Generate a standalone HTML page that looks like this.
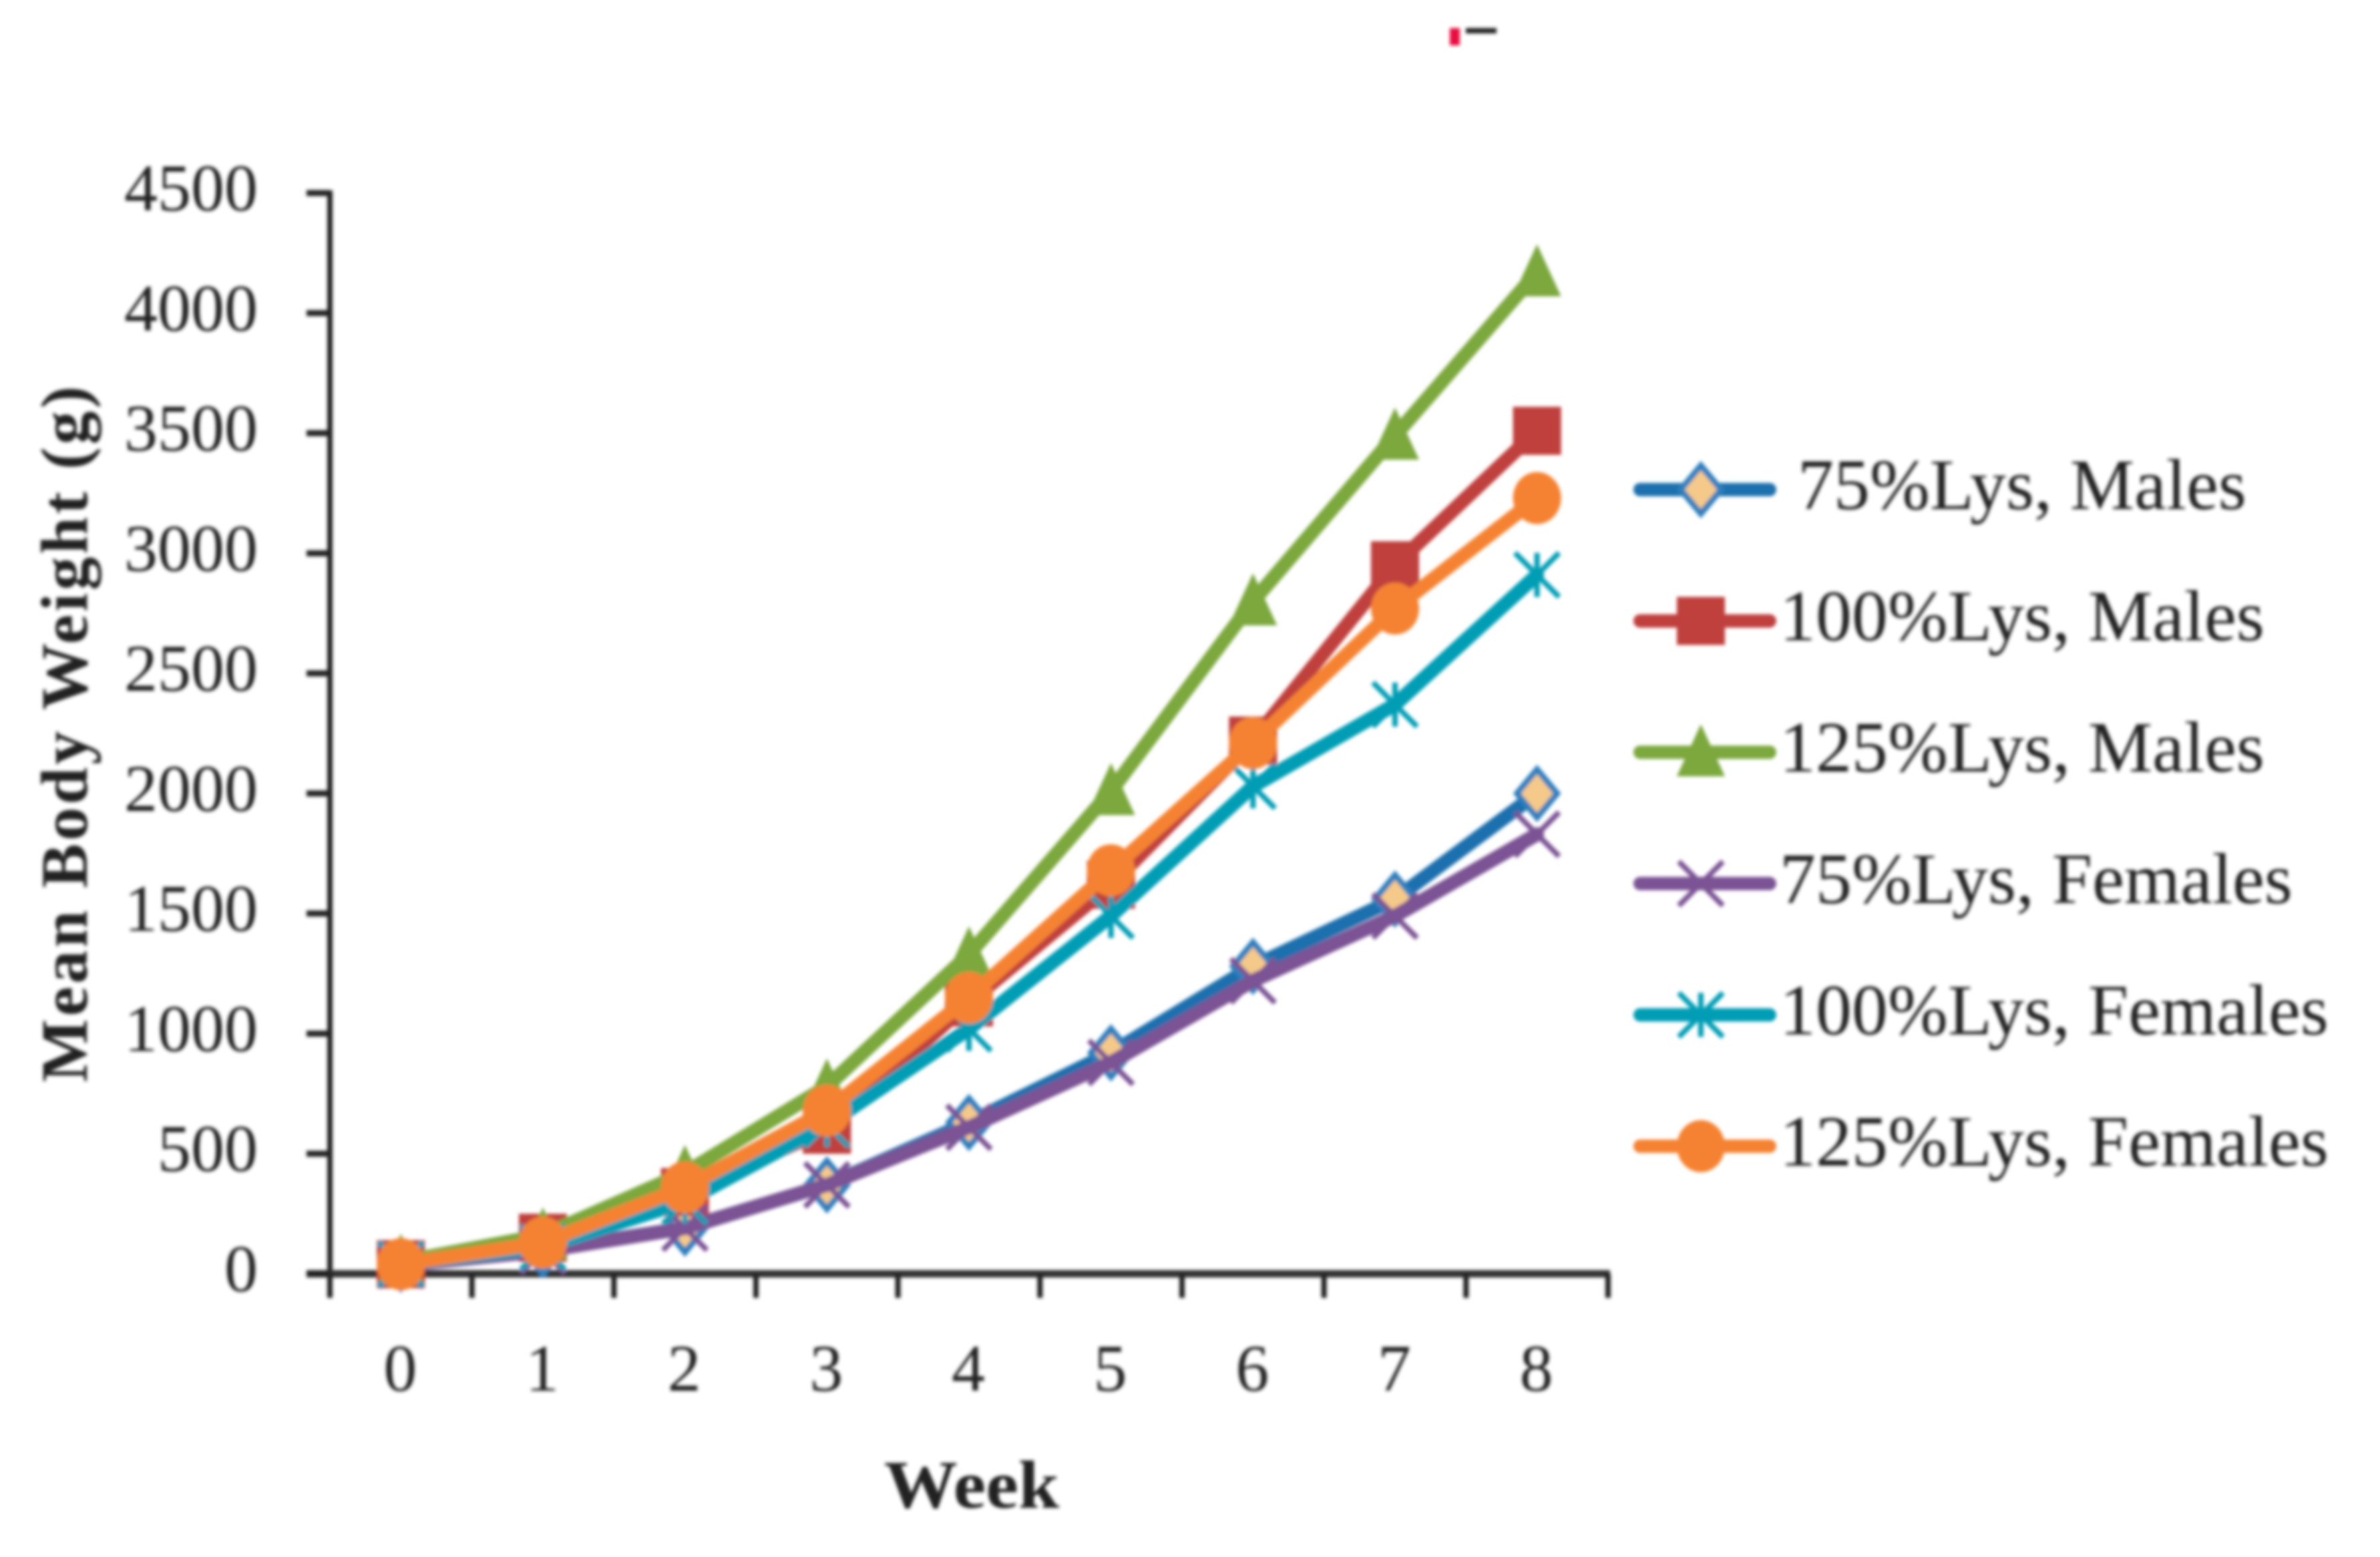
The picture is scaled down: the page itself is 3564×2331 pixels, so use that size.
<!DOCTYPE html>
<html lang="en">
<head>
<meta charset="utf-8">
<title>Mean Body Weight by Week</title>
<style>
  html, body { margin: 0; padding: 0; background: #ffffff; }
  svg { display: block; }
  text { font-family: "Liberation Serif", serif; fill: #222222; }
</style>
</head>
<body>
<svg id="chart" xmlns="http://www.w3.org/2000/svg" width="3564" height="2331" viewBox="0 0 3564 2331">
  <defs>
    <filter id="soft" x="-5%" y="-5%" width="110%" height="110%"><feGaussianBlur stdDeviation="2.6"/></filter>
  </defs>
  <rect x="0" y="0" width="3564" height="2331" fill="#ffffff"/>
  <g id="root" filter="url(#soft)">
    <rect x="2171" y="42" width="15" height="26" fill="#e8083f"/>
    <rect x="2195" y="42" width="46" height="8" fill="#222222"/>
    <text x="1455" y="2257" font-size="102" font-weight="bold" text-anchor="middle" textLength="262" lengthAdjust="spacingAndGlyphs">Week</text>
    <text transform="translate(130,1099) rotate(-90)" font-size="100" font-weight="bold" text-anchor="middle" textLength="1042" lengthAdjust="spacing">Mean Body Weight (g)</text>
  </g>
</svg>
<script>
const weeks = [0, 1, 2, 3, 4, 5, 6, 7, 8];
const yTicks = [0, 500, 1000, 1500, 2000, 2500, 3000, 3500, 4000, 4500];

const males75 = [40, 100, 190, 370, 630, 920, 1280, 1560, 2000];
const males100 = [40, 150, 340, 600, 1130, 1620, 2220, 2950, 3510];
const males125 = [50, 160, 420, 780, 1330, 2010, 2800, 3490, 4170];
const females75 = [35, 95, 190, 370, 610, 880, 1220, 1490, 1830];
const females100 = [40, 110, 300, 620, 1020, 1490, 2030, 2370, 2910];
const females125 = [40, 130, 360, 680, 1150, 1680, 2210, 2770, 3230];

const seriesValues = [males75, males100, males125, females75, females100, females125];
const seriesLabels = ["\u00a075%Lys, Males", "100%Lys, Males", "125%Lys, Males", "75%Lys, Females", "100%Lys, Females", "125%Lys, Females"];
const seriesKeys = ["75-males", "100-males", "125-males", "75-females", "100-females", "125-females"];
const seriesColors = ["#1a6fae", "#c0403e", "#7ba83e", "#7b5294", "#009db5", "#f58233"];
const seriesMarkers = ["diamond", "square", "triangle", "cross", "asterisk", "circle"];

const NS = "http://www.w3.org/2000/svg";
const root = document.getElementById("root");

const plotLeft = 494, plotRight = 2408, plotBottom = 1907, plotTop = 289, yMax = 4500;
function xScale(i) { return plotLeft + (i + 0.5) * (plotRight - plotLeft) / weeks.length; }
function yScale(v) { return plotBottom - v / yMax * (plotBottom - plotTop); }

function make(tag, attrs, parent) {
  const el = document.createElementNS(NS, tag);
  for (const k in attrs) el.setAttribute(k, attrs[k]);
  (parent || root).appendChild(el);
  return el;
}

function drawMarker(parent, type, color, cx, cy) {
  const r = 36;
  if (type === "diamond") {
    const d = make("polygon", { points: (cx - r + 6) + "," + cy + " " + cx + "," + (cy - r) + " " + (cx + r - 6) + "," + cy + " " + cx + "," + (cy + r), fill: "#f5c98a", stroke: "#2e7fbe", "stroke-width": 9 }, parent);
    
    
  } else if (type === "square") {
    const s = make("rect", { x: cx - r, y: cy - r, width: 2 * r, height: 2 * r, fill: color }, parent);
    
    
  } else if (type === "triangle") {
    const t = make("polygon", { points: (cx - r) + "," + (cy + r) + " " + cx + "," + (cy - r - 6) + " " + (cx + r) + "," + (cy + r), fill: color }, parent);
    
    
  } else if (type === "circle") {
    const c = make("ellipse", { cx: cx, cy: cy, rx: r, ry: r + 3, fill: color }, parent);
    
    
  } else {
    const a = r - 3;
    let dStr = "M" + (cx - a) + " " + (cy - a) + "L" + (cx + a) + " " + (cy + a) + "M" + (cx + a) + " " + (cy - a) + "L" + (cx - a) + " " + (cy + a);
    if (type === "asterisk") dStr += "M" + cx + " " + (cy - a) + "L" + cx + " " + (cy + a);
    const m = make("path", { d: dStr, fill: "none", stroke: color, "stroke-width": 8 }, parent);
    
    
  }
}

/* axes */
const axes = make("g", {});



const yAxisLine = make("line", { x1: plotLeft, y1: plotTop - 4, x2: plotLeft, y2: plotBottom + 36, stroke: "#222222", "stroke-width": 8 }, axes);



const xAxisLine = make("line", { x1: 459, y1: plotBottom, x2: plotRight + 3, y2: plotBottom, stroke: "#333333", "stroke-width": 11 }, axes);



yTicks.forEach(function (v) {
  const tick = make("line", { x1: 459, y1: yScale(v), x2: plotLeft, y2: yScale(v), stroke: "#222222", "stroke-width": 9 }, axes);
  
  
  const label = make("text", { x: 386, y: yScale(v) + 26, "font-size": 100, "text-anchor": "end" }, axes);
  
  
  label.textContent = String(v);
});

for (let i = 0; i <= weeks.length; i++) {
  const tx = plotLeft + i * (plotRight - plotLeft) / weeks.length;
  const tick = make("line", { x1: tx, y1: plotBottom, x2: tx, y2: plotBottom + 36, stroke: "#222222", "stroke-width": 8 }, axes);
  
  
}

weeks.forEach(function (w, i) {
  const label = make("text", { x: xScale(i) - 1, y: 2082, "font-size": 100, "text-anchor": "middle" }, axes);
  
  
  label.textContent = String(w);
});

/* series */
seriesValues.forEach(function (values, s) {
  const group = make("g", {});
  
  
  const pts = values.map(function (v, i) { return xScale(i) + "," + yScale(v); }).join(" ");
  const line = make("polyline", { points: pts, fill: "none", stroke: seriesColors[s], "stroke-width": 21, "stroke-linejoin": "round", "stroke-linecap": "round" }, group);
  
  
  values.forEach(function (v, i) {
    drawMarker(group, seriesMarkers[s], seriesColors[s], xScale(i), yScale(v));
  });
});

/* legend */
const legend = make("g", {});


seriesLabels.forEach(function (name, s) {
  const rowY = 733 + s * 196.6;
  const entry = make("g", {}, legend);
  
  
  const key = make("line", { x1: 2456, y1: rowY, x2: 2650, y2: rowY, stroke: seriesColors[s], "stroke-width": 20, "stroke-linecap": "round" }, entry);
  
  
  drawMarker(entry, seriesMarkers[s], seriesColors[s], 2547, rowY);
  const label = make("text", { x: 2665, y: rowY + 29, "font-size": 108 }, entry);
  
  
  label.textContent = name;
});
</script>
</body>
</html>
